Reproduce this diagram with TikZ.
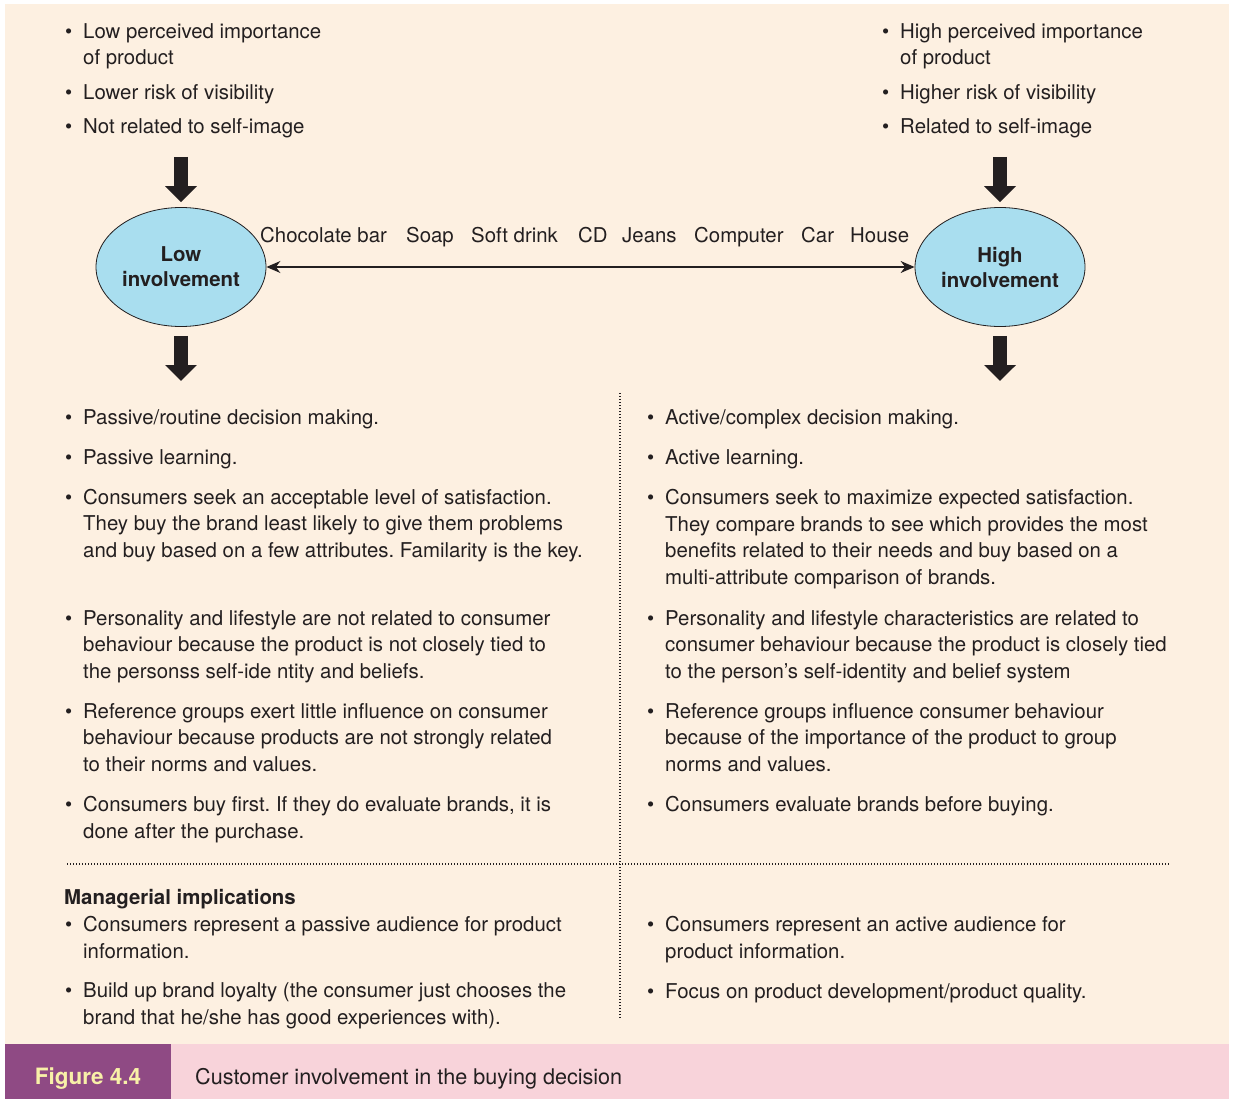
\documentclass[tikz,border=0pt]{standalone}
\usepackage{fontspec}
\setmainfont{TeX Gyre Heros}
\usepackage{tikz}
\usetikzlibrary{arrows.meta,shapes.geometric}

\definecolor{cream}{HTML}{FDF0E1}
\definecolor{ovalblue}{HTML}{A9DEEF}
\definecolor{figpurple}{HTML}{8F4A84}
\definecolor{figpink}{HTML}{F8D3DA}
\definecolor{figyellow}{HTML}{F8F0A8}
\definecolor{ink}{HTML}{231F20}

\newcommand{\bodyfont}{\fontsize{20.4}{26.5}\selectfont}
\newcommand{\bul}{\llap{\textbullet\hspace{11pt}}}
\frenchspacing

\begin{document}
\begin{tikzpicture}[x=1pt,y=-1pt,
  every node/.style={text=ink},
  % base of a multi-line node = baseline of its last line
  itm/.style={anchor=base west, align=left, inner sep=0pt, font=\bodyfont},
  word/.style={anchor=base west, inner sep=0pt, font=\bodyfont},
  oval/.style={ellipse, draw=ink, line width=0.8pt, fill=ovalblue, minimum width=170pt, minimum height=119pt, inner sep=0pt, align=center, font=\fontsize{20.4}{25}\selectfont\bfseries},
  bigarrow/.style={draw=ink, line width=14pt, -{Triangle[width=31pt,length=16pt]}},
  dotline/.style={draw=ink, line width=1.8pt, dash pattern=on 1.4pt off 1.6pt}
]
\useasboundingbox (0,0) rectangle (1233,1099);
\fill[white] (0,0) rectangle (1233,1099);
\fill[cream] (5,4) rectangle (1229,1044);

% top lists
\node[itm] (lowa) at (83,65) {\bul Low perceived importance\\of product};
\node[itm] (lowb) at (83,100) {\bul Lower risk of visibility};
\node[itm] (lowc) at (83,134) {\bul Not related to self-image};
\node[itm] (higha) at (900,65) {\bul High perceived importance\\of product};
\node[itm] (highb) at (900,100) {\bul Higher risk of visibility};
\node[itm] (highc) at (900,134) {\bul Related to self-image};

% involvement scale
\node[oval] (low) at (181,267) {Low\\involvement};
\node[oval] (high) at (1000,267) {High\\involvement};
\coordinate (lowin) at (181,157);
\coordinate (highin) at (1000,157);
\coordinate (lowout) at (181,381);
\coordinate (highout) at (1000,381);
\draw[bigarrow, shorten >=5pt] (lowin) -- (low.north);
\draw[bigarrow, shorten >=5pt] (highin) -- (high.north);
\draw[bigarrow, shorten <=9pt] (low.south) -- (lowout);
\draw[bigarrow, shorten <=9pt] (high.south) -- (highout);
\draw[ink, line width=1.4pt, {Stealth[length=14pt,width=12pt]}-{Stealth[length=14pt,width=12pt]}] (low.east) -- (high.west);

\node[word] (choc) at (260,243) {Chocolate bar};
\node[word] (soap) at (406,243) {Soap};
\node[word] (drink) at (471,243) {Soft drink};
\node[word] (cd) at (578,243) {CD};
\node[word] (jeans) at (622,243) {Jeans};
\node[word] (comp) at (694,243) {Computer};
\node[word] (car) at (801,243) {Car};
\node[word] (house) at (850,243) {House};

% dividers
\coordinate (vtop) at (620,393);
\coordinate (vbot) at (620,1018);
\coordinate (hleft) at (67,864);
\coordinate (hright) at (1170,864);
\draw[dotline] (vtop) -- (vbot);
\draw[dotline] (hleft) -- (hright);

% low involvement consequences
\node[itm] (l1) at (83,424) {\bul Passive/routine decision making.};
\node[itm] (l2) at (83,464) {\bul Passive learning.};
\node[itm] (l3) at (83,557) {\bul Consumers seek an acceptable level of satisfaction.\\They buy the brand least likely to give them problems\\and buy based on a few attributes. Familarity is the key.};
\node[itm] (l4) at (83,678) {\bul Personality and lifestyle are not related to consumer\\behaviour because the product is not closely tied to\\the personss self-ide ntity and beliefs.};
\node[itm] (l5) at (83,771) {\bul Reference groups exert little influence on consumer\\behaviour because products are not strongly related\\to their norms and values.};
\node[itm] (l6) at (83,838) {\bul Consumers buy first. If they do evaluate brands, it is\\done after the purchase.};

% high involvement consequences
\node[itm] (h1) at (665,424) {\bul Active/complex decision making.};
\node[itm] (h2) at (665,464) {\bul Active learning.};
\node[itm] (h3) at (665,584) {\bul Consumers seek to maximize expected satisfaction.\\They compare brands to see which provides the most\\benefits related to their needs and buy based on a\\multi-attribute comparison of brands.};
\node[itm] (h4) at (665,678) {\bul Personality and lifestyle characteristics are related to\\consumer behaviour because the product is closely tied\\to the person’s self-identity and belief system};
\node[itm] (h5) at (665,771) {\bul Reference groups influence consumer behaviour\\because of the importance of the product to group\\norms and values.};
\node[itm] (h6) at (665,811) {\bul Consumers evaluate brands before buying.};

% managerial implications
\node[word, font=\bodyfont\bfseries] (mgmt) at (64,904) {Managerial implications};
\node[itm] (ml1) at (83,958) {\bul Consumers represent a passive audience for product\\information.};
\node[itm] (ml2) at (83,1024) {\bul Build up brand loyalty (the consumer just chooses the\\brand that he/she has good experiences with).};
\node[itm] (mh1) at (665,958) {\bul Consumers represent an active audience for\\product information.};
\node[itm] (mh2) at (665,998) {\bul Focus on product development/product quality.};

% caption bar
\fill[figpurple] (5,1044) rectangle (171,1099);
\fill[figpink] (171,1044) rectangle (1229,1099);
\node[anchor=base, text=figyellow, font=\fontsize{22.5}{26}\selectfont\bfseries, inner sep=0pt] (fig) at (88,1084) {Figure 4.4};
\node[anchor=base west, inner sep=0pt, font=\fontsize{21.6}{26}\selectfont] (cap) at (195,1084) {Customer involvement in the buying decision};
\end{tikzpicture}
\end{document}
